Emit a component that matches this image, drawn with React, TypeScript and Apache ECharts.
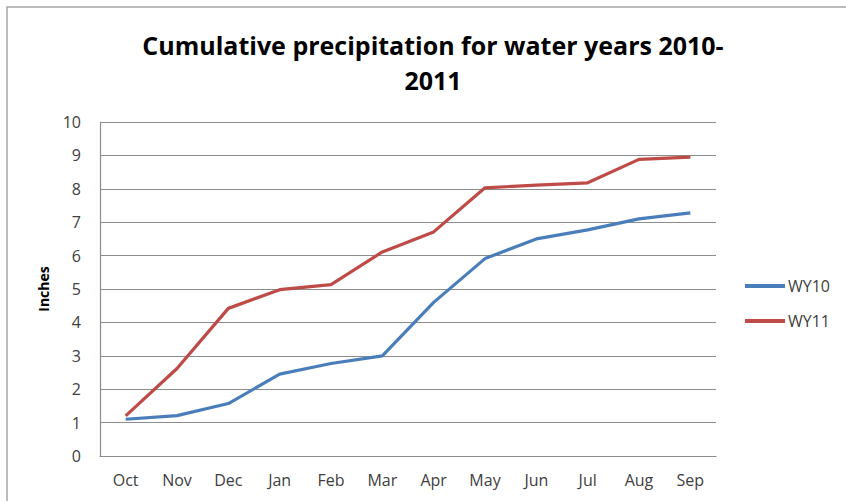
import React, { useEffect, useRef } from "react";
import * as echarts from "echarts";

const months = ["Oct", "Nov", "Dec", "Jan", "Feb", "Mar", "Apr", "May", "Jun", "Jul", "Aug", "Sep"];
const wy10 = [1.1, 1.21, 1.57, 2.45, 2.77, 3.0, 4.6, 5.91, 6.5, 6.77, 7.1, 7.28];
const wy11 = [1.2, 2.62, 4.42, 4.98, 5.13, 6.11, 6.71, 8.03, 8.11, 8.18, 8.88, 8.95];
const yTicks = { min: 0, max: 10, interval: 1 };

const FONT = "'Open Sans', 'Noto Sans', sans-serif";

export default function App() {
  const ref = useRef<HTMLDivElement>(null);

  useEffect(() => {
    if (!ref.current) return;
    const chart = echarts.init(ref.current, undefined, { renderer: "svg" });
    chart.setOption({
      animation: false,
      backgroundColor: "#ffffff",
      textStyle: { fontFamily: FONT },
      graphic: [
        {
          type: "rect",
          shape: { x: 7, y: 7, width: 900, height: 600 },
          style: { fill: "none", stroke: "#a6a6a6", lineWidth: 1.5 },
          silent: true,
        },
        {
          type: "text",
          x: 433,
          y: 45,
          style: {
            text: "Cumulative precipitation for water years 2010-",
            font: `bold 25px ${FONT}`,
            fill: "#000000",
            align: "center",
            verticalAlign: "middle",
          },
        },
        {
          type: "text",
          x: 433,
          y: 80,
          style: {
            text: "2011",
            font: `bold 25px ${FONT}`,
            fill: "#000000",
            align: "center",
            verticalAlign: "middle",
          },
        },
      ],
      legend: {
        orient: "vertical",
        left: 740,
        top: 273,
        itemWidth: 40,
        itemHeight: 4,
        itemGap: 19,
        icon: "rect",
        textStyle: { fontFamily: FONT, fontSize: 16, color: "#404040", padding: [0, 0, 0, -2] },
        data: ["WY10", "WY11"],
      },
      grid: { left: 100, right: 130, top: 122, bottom: 45 },
      xAxis: {
        type: "category",
        data: months,
        boundaryGap: true,
        axisLine: { lineStyle: { color: "#8c8c8c", width: 1.2 } },
        axisTick: { show: false },
        axisLabel: { color: "#404040", fontSize: 16, margin: 16, fontFamily: FONT },
      },
      yAxis: {
        type: "value",
        min: yTicks.min,
        max: yTicks.max,
        interval: yTicks.interval,
        name: "Inches",
        nameLocation: "middle",
        nameGap: 50,
        nameRotate: 90,
        nameTextStyle: { fontWeight: "bold", fontSize: 14, color: "#000000", fontFamily: FONT },
        axisLine: { show: true, lineStyle: { color: "#8c8c8c", width: 1.2 } },
        axisTick: { show: false },
        axisLabel: { color: "#404040", fontSize: 16, margin: 19, fontFamily: FONT },
        splitLine: { lineStyle: { color: "#8c8c8c", width: 1.2 } },
      },
      series: [
        {
          name: "WY10",
          type: "line",
          data: wy10,
          symbol: "none",
          itemStyle: { color: "#4a7ebb" },
          lineStyle: { color: "#4a7ebb", width: 3.2 },
        },
        {
          name: "WY11",
          type: "line",
          data: wy11,
          symbol: "none",
          itemStyle: { color: "#be4b48" },
          lineStyle: { color: "#be4b48", width: 3.2 },
        },
      ],
    });
    return () => chart.dispose();
  }, []);

  return (
    <div
      ref={ref}
      style={{ position: "fixed", left: 0, top: 0, width: 846, height: 501 }}
    />
  );
}
